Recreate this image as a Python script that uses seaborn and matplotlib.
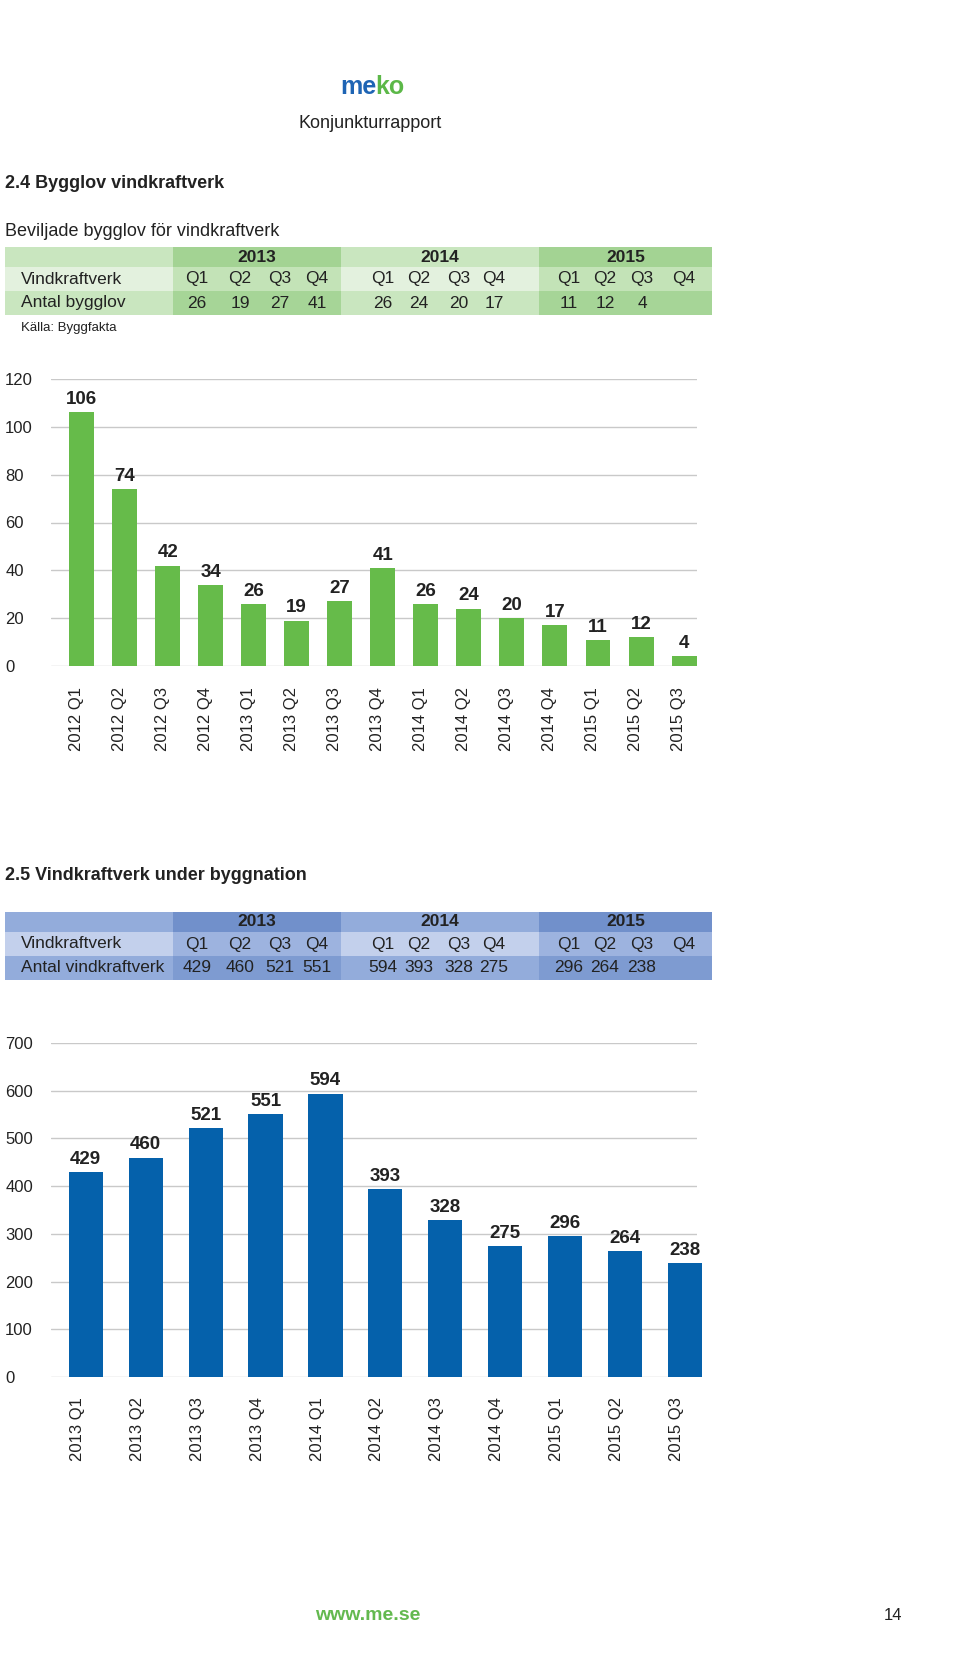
import matplotlib
matplotlib.use('Agg')
import matplotlib.pyplot as plt
from matplotlib.patches import Rectangle
import numpy as np
import seaborn as sns

bygglov_quarters = ['2012 Q1', '2012 Q2', '2012 Q3', '2012 Q4',
                    '2013 Q1', '2013 Q2', '2013 Q3', '2013 Q4',
                    '2014 Q1', '2014 Q2', '2014 Q3', '2014 Q4',
                    '2015 Q1', '2015 Q2', '2015 Q3']
bygglov_values = [106, 74, 42, 34, 26, 19, 27, 41, 26, 24, 20, 17, 11, 12, 4]

byggnation_quarters = ['2013 Q1', '2013 Q2', '2013 Q3', '2013 Q4',
                       '2014 Q1', '2014 Q2', '2014 Q3', '2014 Q4',
                       '2015 Q1', '2015 Q2', '2015 Q3']
byggnation_values = [429, 460, 521, 551, 594, 393, 328, 275, 296, 264, 238]

table_years = ['2013', '2014', '2015']
table_quarters = ['Q1', 'Q2', 'Q3', 'Q4']

sns.set_style('white')
plt.rcParams['font.family'] = ['Liberation Sans', 'DejaVu Sans']

GREEN = '#66bb4a'
BLUE = '#0561ab'
TEXT = '#222222'
GRID = '#c9c9c9'

fig = plt.figure(figsize=(9.6, 16.7), dpi=100)

# page overlay in pixel coordinates (for header, tables and footer)
page = fig.add_axes([0, 0, 1, 1], zorder=0)
page.set_xlim(0, 960)
page.set_ylim(1670, 0)
page.axis('off')

# header: logo as two coloured halves, "ko" placed right after "me"
me = page.text(340, 87, 'me', color='#1e64b4', fontsize=18, fontweight='bold', va='center')
fig.canvas.draw()
me_end = page.transData.inverted().transform(me.get_window_extent().p1)[0]
page.text(me_end - 1, 87, 'ko', color='#5cb848', fontsize=18, fontweight='bold', va='center')
page.text(298, 124, 'Konjunkturrapport', color=TEXT, fontsize=13, va='center')
page.text(5, 184, '2.4 Bygglov vindkraftverk', color=TEXT, fontsize=13, fontweight='bold', va='center')
page.text(5, 231, 'Beviljade bygglov för vindkraftverk', color=TEXT, fontsize=13, va='center')
page.text(5, 875, '2.5 Vindkraftverk under byggnation', color=TEXT, fontsize=13, fontweight='bold', va='center')


def values_by_year(labels, values):
    out = []
    for y in table_years:
        out.append([v for lab, v in zip(labels, values) if lab.startswith(y)])
    return out


def draw_table(top, light, dark, row_label, rows):
    cols = [(5, 173), (173, 341), (341, 539), (539, 712)]
    qx = [[197, 240, 280, 317], [383, 419, 459, 494], [569, 605, 642, 684]]
    bands = [(top, top + 20), (top + 20, top + 44), (top + 44, top + 68)]
    for r, (y0, y1) in enumerate(bands):
        for c, (x0, x1) in enumerate(cols):
            shade = dark if c % 2 else light
            page.add_patch(Rectangle((x0, y0), x1 - x0, y1 - y0, color=shade[r], lw=0))
    ymid = [(a + b) / 2 for a, b in bands]
    for i, year in enumerate(table_years):
        x0, x1 = cols[i + 1]
        page.text((x0 + x1) / 2, ymid[0], year, fontsize=12.5, fontweight='bold',
                  color=TEXT, ha='center', va='center')
        for j, q in enumerate(table_quarters):
            page.text(qx[i][j], ymid[1], q, fontsize=12.5, color=TEXT, ha='center', va='center')
        for j, v in enumerate(rows[i]):
            page.text(qx[i][j], ymid[2], str(v), fontsize=12.5, color=TEXT, ha='center', va='center')
    page.text(21, ymid[1], 'Vindkraftverk', fontsize=12.5, color=TEXT, va='center')
    page.text(21, ymid[2], row_label, fontsize=12.5, color=TEXT, va='center')


draw_table(247, ['#c9e6bf', '#e3f1de', '#c9e6bf'], ['#a3d393', '#c3e3b7', '#a6d597'],
           'Antal bygglov', values_by_year(bygglov_quarters, bygglov_values))
page.text(21, 328, 'Källa: Byggfakta', fontsize=9.5, color=TEXT, va='center')

draw_table(912, ['#93acdb', '#c3d0ec', '#93acdb'], ['#7190cb', '#9db3df', '#7e9bd1'],
           'Antal vindkraftverk', values_by_year(byggnation_quarters, byggnation_values))


def bar_chart(rect, labels, values, color, ymax, step, width, xlim, xpad, lab_shift):
    ax = fig.add_axes(rect, zorder=1)
    ax.set_facecolor('none')
    sns.barplot(x=labels, y=values, color=color, saturation=1, width=width,
                linewidth=0, ax=ax)
    ax.set_ylim(0, ymax)
    ax.set_yticks(range(0, ymax + 1, step))
    ax.set_xlim(*xlim)
    # tick labels sit a little left of the bar centres in the original
    ax.set_xticks(np.arange(len(labels)) - lab_shift, labels)
    ax.grid(axis='y', color=GRID, lw=1)
    ax.grid(axis='x', visible=False)
    ax.set_axisbelow(True)
    for s in ax.spines.values():
        s.set_visible(False)
    ax.tick_params(axis='y', length=0, pad=33, labelsize=12, labelcolor=TEXT)
    for lab in ax.get_yticklabels():
        lab.set_ha('left')
    ax.tick_params(axis='x', length=0, pad=xpad, labelsize=12, labelcolor=TEXT, rotation=90)
    ax.set_xlabel('')
    ax.set_ylabel('')
    for p in ax.patches:
        p.set_clip_on(False)
    ax.bar_label(ax.containers[0], padding=3, fontsize=13.5, fontweight='bold', color=TEXT)
    return ax


bar_chart([51 / 960, 1 - 666 / 1670, 646 / 960, 287 / 1670],
          bygglov_quarters, bygglov_values, GREEN, 120, 20, 0.58, (-0.71, 14.3), 15, 0.12)
bar_chart([51 / 960, 1 - 1377 / 1670, 646 / 960, 334 / 1670],
          byggnation_quarters, byggnation_values, BLUE, 700, 100, 0.57, (-0.58, 10.2), 14.5, 0.14)

# footer
page.text(315, 1616, 'www.me.se', color='#63b94f', fontsize=14, fontweight='bold', va='center')
page.text(902, 1616, '14', color=TEXT, fontsize=12, ha='right', va='center')

fig.savefig('out.png', dpi=100, facecolor='white')
